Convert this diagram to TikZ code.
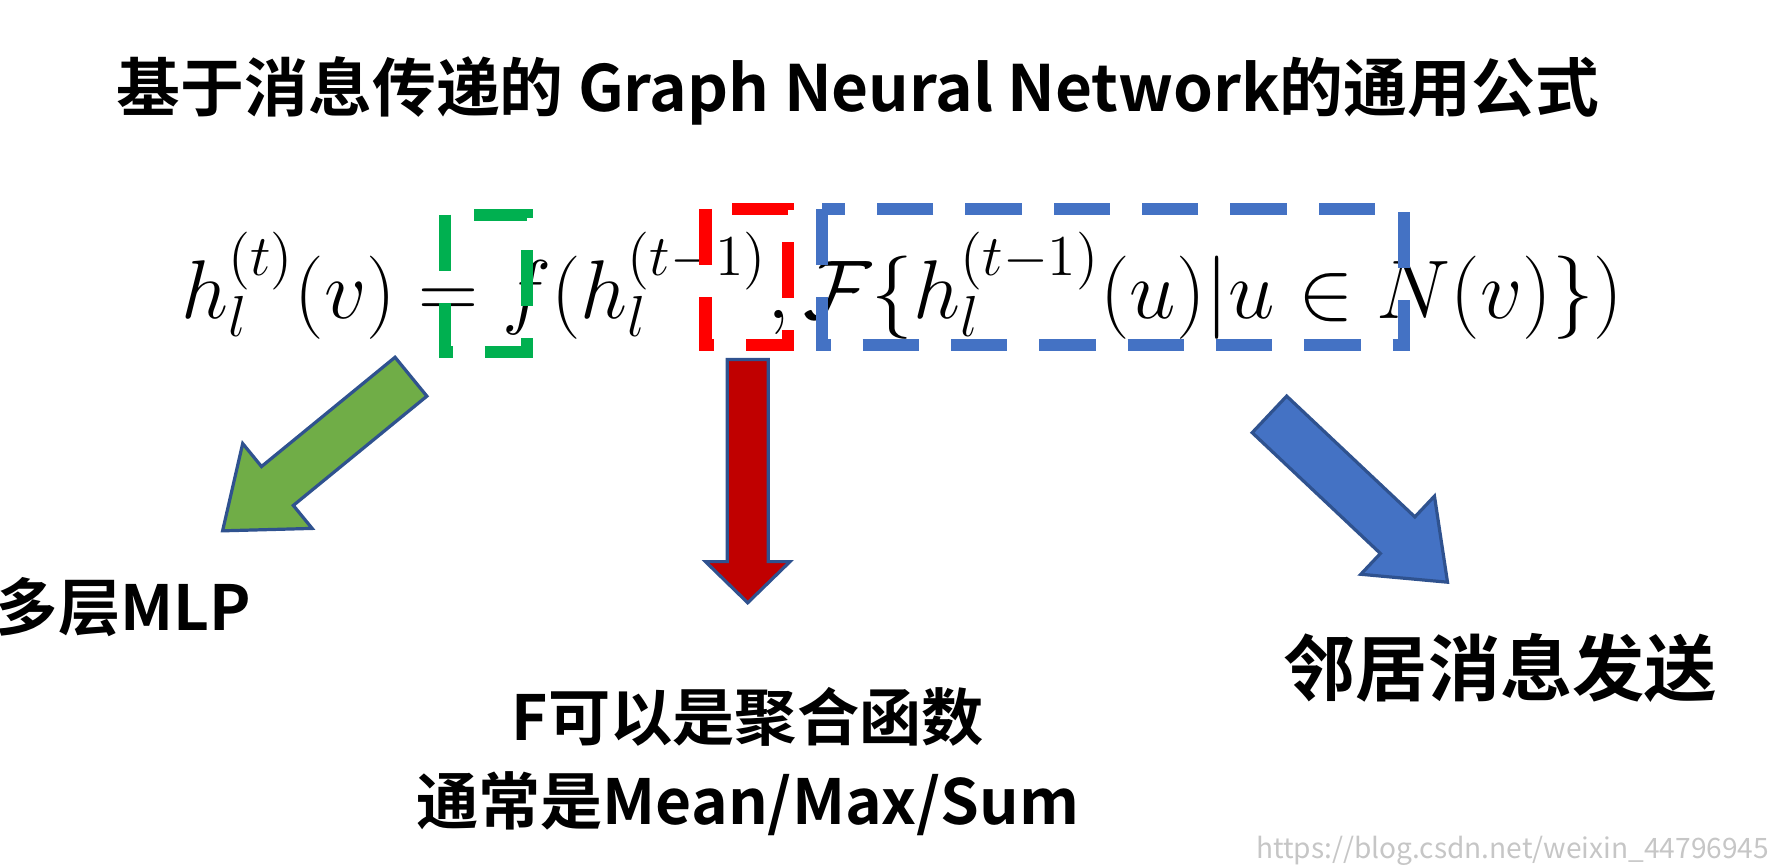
\documentclass[tikz,border=0pt]{standalone}
\usepackage[no-math]{fontspec}
\setmainfont{Noto Sans CJK SC}[BoldFont={Noto Sans CJK SC Bold}]
\usetikzlibrary{calc}
\definecolor{gr}{RGB}{0,176,80}
\definecolor{rd}{RGB}{255,0,0}
\definecolor{bl}{RGB}{68,114,196}
\definecolor{agreen}{RGB}{112,173,71}
\definecolor{ared}{RGB}{192,0,0}
\definecolor{edge}{RGB}{47,82,143}
\newcommand{\blockarrow}[8]{%
  \coordinate (#1A) at (#2); \coordinate (#1B) at (#3);
  \coordinate (#1C) at ($(#1B)!#6!(#1A)$);
  \fill[#7,draw=edge,line width=0.8pt] ($(#1A)!#4!90:(#1B)$) -- ($(#1C)!#4!90:(#1B)$) -- ($(#1C)!#5!90:(#1B)$) -- (#1B)
   -- ($(#1C)!#5!-90:(#1B)$) -- ($(#1C)!#4!-90:(#1B)$) -- ($(#1A)!#4!-90:(#1B)$) -- cycle;}
\tikzset{
  box/.style={dash pattern=on 14pt off 8pt, line width=3pt},
  lbl/.style={font=\fontsize{15.5}{22}\selectfont\bfseries, align=center},
}
\begin{document}
\begin{tikzpicture}[x=0.01cm,y=-0.01cm]
\useasboundingbox (0,0) rectangle (1568,758.6);
\node[anchor=west,font=\fontsize{15.9}{18}\selectfont\bfseries] (title) at (90,80) {基于消息传递的 Graph Neural Network的通用公式};
\node[anchor=west,inner sep=0,font=\fontsize{19.1}{23}\selectfont] (eq) at (158,250)
 {$h_l^{(t)}(v) = f(h_l^{(t-1)}, \mathcal{F}\{h_l^{(t-1)}(u)|u\in N(v)\})$};
\draw[box,gr] (390,188) rectangle (462,308);
\draw[box,rd] (618,183) rectangle (690,302);
\draw[box,bl] (720,183) rectangle (1230,302);
\blockarrow{g}{360,330}{195,465}{0.22cm}{0.48cm}{0.62cm}{agreen}{}
\blockarrow{r}{655,315}{655,528}{0.18cm}{0.37cm}{0.36cm}{ared}{}
\blockarrow{b}{1112,363}{1268,510}{0.22cm}{0.47cm}{0.6cm}{bl}{}
\node[lbl,anchor=west] (mlp) at (-16,532) {多层MLP};
\node[lbl] (agg) at (655,667) {F可以是聚合函数\\[-1pt]通常是Mean/Max/Sum};
\node[lbl,anchor=west,font=\fontsize{18}{22}\selectfont\bfseries] (nb) at (1112,585) {邻居消息发送};
\node[anchor=east,text=gray!45,font=\fontsize{7}{9}\selectfont] (wm) at (1562,745) {https://blog.csdn.net/weixin\_44796945};
\end{tikzpicture}
\end{document}
